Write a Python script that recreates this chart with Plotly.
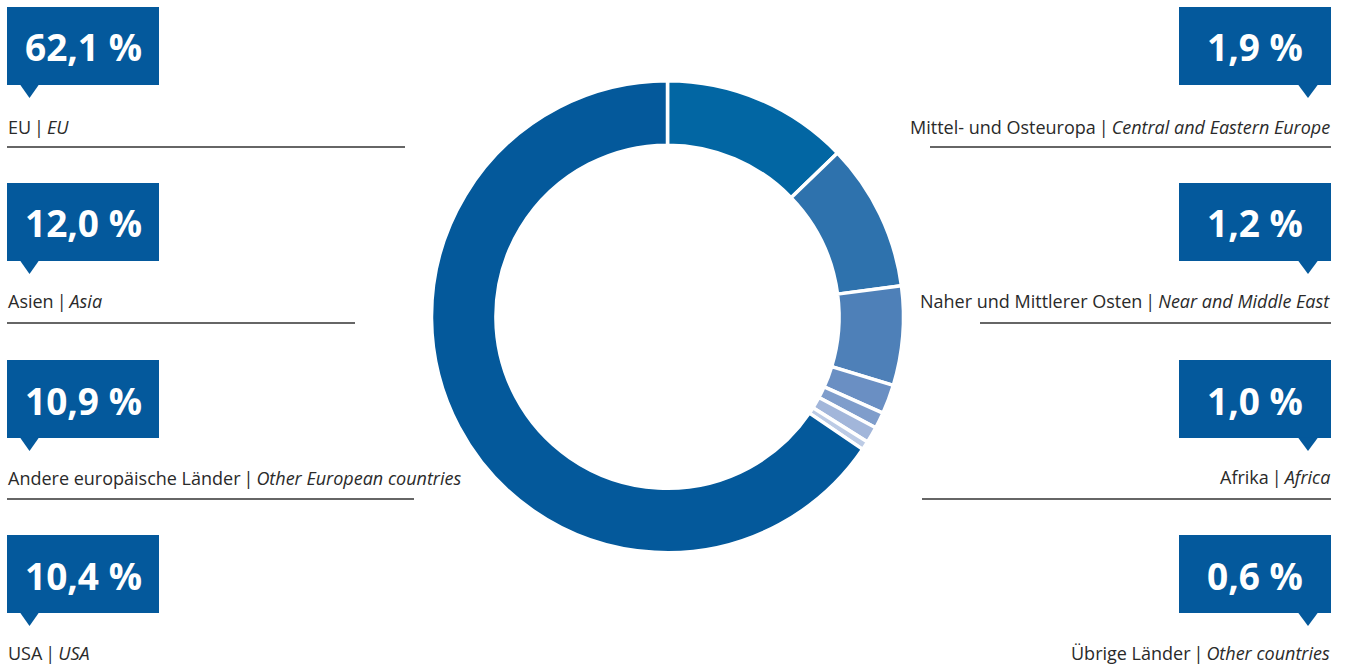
import plotly.graph_objects as go

# Shares printed in the callout boxes (percent)
regions_de = ["EU", "Asien", "Andere europäische Länder", "USA",
              "Mittel- und Osteuropa", "Naher und Mittlerer Osten", "Afrika", "Übrige Länder"]
regions_en = ["EU", "Asia", "Other European countries", "USA",
              "Central and Eastern Europe", "Near and Middle East", "Africa", "Other countries"]
share_labels = ["62,1 %", "12,0 %", "10,9 %", "10,4 %", "1,9 %", "1,2 %", "1,0 %", "0,6 %"]

# Ring segments as drawn in the reference, clockwise from 12 o'clock
ring_order = ["Asia", "Other European countries", "USA", "Central and Eastern Europe",
              "Near and Middle East", "Africa", "Other countries", "EU"]
ring_values = [12.8, 10.1, 6.8, 2.0, 1.1, 1.1, 0.6, 65.5]
ring_colors = ["#0266a3", "#2e72ad", "#4e80b8", "#6a8fc3", "#7f9dcb", "#a2b6da", "#bccbe5", "#04599b"]

W, H = 1347, 671
BOX = "#04599c"


def px(x):
    return x / W


def py(y):
    return 1 - y / H


fig = go.Figure()

fig.add_trace(go.Pie(
    labels=ring_order,
    values=ring_values,
    hole=0.727,
    sort=False,
    direction="clockwise",
    rotation=0,
    marker=dict(colors=ring_colors, line=dict(color="white", width=3.5)),
    textinfo="none",
    hoverinfo="label+percent",
    domain=dict(x=[px(431.5), px(903.5)], y=[py(552.7), py(80.7)]),
    showlegend=False,
))

# callout layout: (box top y, label centre y, underline y, underline x-extent)
left_rows = [(7, 127, 147, 405), (183, 301, 323, 355), (360, 478, 499, 414), (535, 653, None, None)]
right_rows = [(7, 127, 147, 930), (183, 301, 323, 980), (360, 477, 499, 922), (535, 653, None, None)]

shapes = []
annotations = []


def callout(i, side, top, label_y, line_y, line_x):
    if side == "left":
        x0, x1 = 7, 159
        tri = (20, 39, 29.5)
        ax, anchor = 7, "left"
    else:
        x0, x1 = 1179, 1331
        tri = (1298, 1318, 1308)
        ax, anchor = 1331, "right"
    bottom = top + 78
    shapes.append(dict(type="rect", xref="paper", yref="paper",
                       x0=px(x0), x1=px(x1), y0=py(bottom), y1=py(top),
                       fillcolor=BOX, line=dict(width=0), layer="above"))
    shapes.append(dict(type="path", xref="paper", yref="paper",
                       path=f"M {px(tri[0])},{py(bottom - 0.5)} L {px(tri[1])},{py(bottom - 0.5)} "
                            f"L {px(tri[2])},{py(bottom + 13)} Z",
                       fillcolor=BOX, line=dict(width=0), layer="above"))
    annotations.append(dict(xref="paper", yref="paper", x=px((x0 + x1) / 2), y=py(top + 40),
                            text=f"<b>{share_labels[i]}</b>", showarrow=False,
                            xanchor="center", yanchor="middle",
                            font=dict(family="Open Sans", size=37, color="white")))
    annotations.append(dict(xref="paper", yref="paper", x=px(ax), y=py(label_y),
                            text=f"{regions_de[i]}\u2009|\u2009<i>{regions_en[i]}</i>", showarrow=False,
                            xanchor=anchor, yanchor="middle", borderpad=0,
                            font=dict(family="Open Sans", size=18, color="#2a2a2a")))
    if line_y is not None:
        if side == "left":
            lx0, lx1 = 7, line_x
        else:
            lx0, lx1 = line_x, 1331
        shapes.append(dict(type="line", xref="paper", yref="paper",
                           x0=px(lx0), x1=px(lx1), y0=py(line_y), y1=py(line_y),
                           line=dict(color="#333333", width=1.5)))


for k, row in enumerate(left_rows):
    callout(k, "left", *row)
for k, row in enumerate(right_rows):
    callout(k + 4, "right", *row)

fig.update_layout(
    width=W, height=H,
    margin=dict(l=0, r=0, t=0, b=0),
    paper_bgcolor="white",
    plot_bgcolor="white",
    shapes=shapes,
    annotations=annotations,
    font=dict(family="Open Sans"),
)

# drop the browser's default body margin so the figure sits at the page origin
fig.write_html(
    "out.html",
    config={"displayModeBar": False},
    post_script="document.body.style.margin='0';document.body.style.overflow='hidden';",
)
